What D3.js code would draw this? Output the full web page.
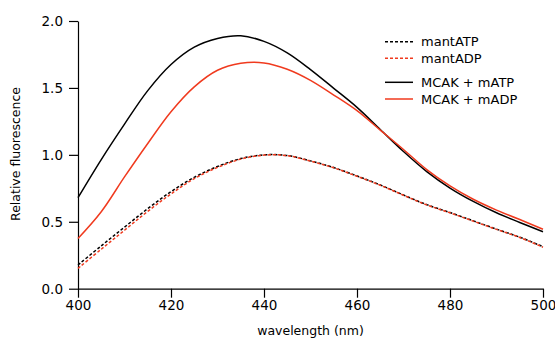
<!DOCTYPE html>
<html><head><meta charset="utf-8">
<script src="https://cdn.jsdelivr.net/npm/d3@7"></script>
<style>body{margin:0;background:#fff}svg text{font-family:"DejaVu Sans",sans-serif;fill:#000}</style>
</head><body><svg id="c" width="555" height="341"></svg>
<script>
const wavelength = [400,405,410,415,420,425,430,435,440,445,450,455,460,465,470,475,480,485,490,495,500];
const mantATP   = [0.177,0.32,0.46,0.598,0.725,0.832,0.913,0.972,1.0,0.995,0.955,0.905,0.842,0.775,0.70,0.628,0.569,0.507,0.445,0.385,0.314];
const mantADP   = [0.152,0.295,0.437,0.578,0.708,0.822,0.906,0.968,0.998,0.994,0.953,0.903,0.840,0.773,0.698,0.626,0.567,0.505,0.443,0.383,0.310];
const mcakATP   = [0.68,0.965,1.23,1.48,1.675,1.805,1.87,1.89,1.848,1.762,1.637,1.497,1.355,1.19,1.025,0.875,0.752,0.652,0.567,0.495,0.425];
const mcakADP   = [0.375,0.575,0.835,1.085,1.322,1.508,1.632,1.684,1.687,1.64,1.557,1.447,1.33,1.185,1.04,0.89,0.768,0.668,0.587,0.517,0.444];
const xTicks = [400,420,440,460,480,500];
const yTicks = [0,0.5,1.0,1.5,2.0];
const seriesNames = ["mantATP","mantADP","MCAK + mATP","MCAK + mADP"];
const seriesColors = ["#000","#f03a1e","#000","#f03a1e"];
const seriesDash = ["3,2","3,2",null,null];
const seriesData = [mantATP, mantADP, mcakATP, mcakADP];

const svg = d3.select("#c");
const x = d3.scaleLinear().domain([400,500]).range([78,543]);
const y = d3.scaleLinear().domain([0,2]).range([288.7,21]);

const xAxis = svg.append("g").attr("transform","translate(0,288.7)")
  .call(d3.axisBottom(x).tickValues(xTicks).tickFormat(d3.format("d")).tickSize(9).tickSizeOuter(0));
const yAxis = svg.append("g").attr("transform","translate(78,0)")
  .call(d3.axisLeft(y).tickValues(yTicks).tickFormat(d3.format(".1f")).tickSize(9).tickSizeOuter(0));
[xAxis,yAxis].forEach(a=>{
  a.selectAll("path,line").attr("stroke","#000").attr("stroke-width",1.2);
  a.selectAll("text").attr("font-size",13.5).attr("font-family","DejaVu Sans");
});
xAxis.selectAll("text").attr("dy","0.71em").attr("y",12);
yAxis.selectAll("text").attr("x",-15);

svg.append("text").attr("x",310.5).attr("y",335).attr("text-anchor","middle")
  .attr("font-size",12.5).text("wavelength (nm)");
svg.append("text").attr("transform","translate(20,154) rotate(-90)").attr("text-anchor","middle")
  .attr("font-size",12.5).text("Relative fluorescence");

const line = d3.line().x((d,i)=>x(wavelength[i])).y(d=>y(d)).curve(d3.curveCatmullRom.alpha(0.5));
const order = [2,3,0,1];
order.forEach(k=>{
  svg.append("path").datum(seriesData[k]).attr("d",line).attr("fill","none")
    .attr("stroke",seriesColors[k]).attr("stroke-width",1.5)
    .attr("stroke-dasharray",seriesDash[k]);
});

const legY = [41.7,58.3,82.3,99];
seriesNames.forEach((n,k)=>{
  svg.append("line").attr("x1",385).attr("x2",413).attr("y1",legY[k]).attr("y2",legY[k])
    .attr("stroke",seriesColors[k]).attr("stroke-width",1.5).attr("stroke-dasharray",seriesDash[k]);
  svg.append("text").attr("x",421).attr("y",legY[k]).attr("dy","0.35em").attr("font-size",13).text(n);
});
</script></body></html>
